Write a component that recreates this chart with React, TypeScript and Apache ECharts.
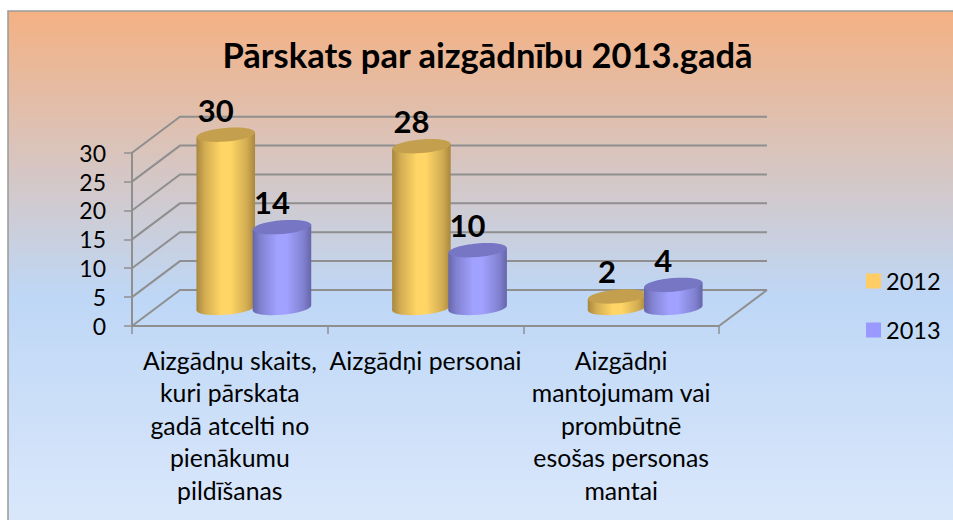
import React, { useEffect, useRef } from "react";
import * as echarts from "echarts";

const categories = [
  "Aizgādņu skaits,\nkuri pārskata\ngadā atcelti no\npienākumu\npildīšanas",
  "Aizgādņi personai",
  "Aizgādņi\nmantojumam vai\nprombūtnē\nesošas personas\nmantai",
];
const seriesNames = ["2012", "2013"];
const values2012 = [30, 28, 2];
const values2013 = [14, 10, 4];
const yTicks = [0, 5, 10, 15, 20, 25, 30];

const FONT = "Lato, Carlito, Calibri, sans-serif";
const DX = 48; // depth offset of the back wall
const DY = 36;
const GRID = "#8f8f8f";

function wallRenderer(params: any, api: any) {
  const cs = params.coordSys;
  const y = api.coord([0, api.value(0)])[1];
  const l = cs.x;
  return {
    type: "polyline",
    silent: true,
    shape: { points: [[l, y], [l + DX, y - DY], [l + cs.width + DX, y - DY]] },
    style: { stroke: GRID, lineWidth: 2, fill: "none" },
  };
}

function floorRenderer(params: any, api: any) {
  const cs = params.coordSys;
  const y = api.coord([0, 0])[1];
  const r = cs.x + cs.width;
  return {
    type: "line",
    silent: true,
    shape: { x1: r, y1: y, x2: r + DX, y2: y - DY },
    style: { stroke: GRID, lineWidth: 2 },
  };
}

function cylinderRenderer(side: number, edge: string, mid: string, bright: string, top: string) {
  return (params: any, api: any) => {
    const [px, py] = api.coord([api.value(0), api.value(1)]);
    const [, py0] = api.coord([api.value(0), 0]);
    const cx = px + DX / 2 + side * 28.1;
    const yTop = py - DY / 2;
    const yBase = py0 - DY / 2;
    const rx = 29.3;
    const ry = 6.8;
    const tilt = (5 * Math.PI) / 180;
    const ey = rx * Math.sin(tilt);
    const fill = {
      type: "linear", x: 0, y: 0, x2: 1, y2: 0,
      colorStops: [
        { offset: 0, color: edge },
        { offset: 0.14, color: mid },
        { offset: 0.42, color: bright },
        { offset: 0.58, color: bright },
        { offset: 0.86, color: mid },
        { offset: 1, color: edge },
      ],
    };
    return {
      type: "group",
      children: [
        {
          type: "ellipse",
          x: cx,
          y: yBase,
          rotation: tilt,
          shape: { cx: 0, cy: 0, rx, ry },
          style: { fill },
        },
        {
          type: "polygon",
          shape: {
            points: [
              [cx - rx, yTop + ey],
              [cx - rx, yBase + ey],
              [cx + rx, yBase - ey],
              [cx + rx, yTop - ey],
            ],
          },
          style: { fill },
        },
        {
          type: "ellipse",
          x: cx,
          y: yTop,
          rotation: tilt,
          shape: { cx: 0, cy: 0, rx, ry },
          style: { fill: top },
        },
        {
          type: "text",
          style: {
            text: String(api.value(1)),
            x: cx - 10,
            y: yTop - 25,
            align: "center",
            verticalAlign: "middle",
            fill: "#000",
            font: `bold 31px ${FONT}`,
          },
        },
      ],
    };
  };
}

const option: any = {
  animation: false,
  backgroundColor: "transparent",
  textStyle: { fontFamily: FONT },
  title: {
    text: "Pārskats par aizgādnību 2013.gadā",
    left: 487.5,
    top: 37,
    padding: 0,
    textAlign: "center",
    textStyle: { fontFamily: FONT, fontWeight: "bold", fontSize: 34.5, color: "#000" },
  },
  graphic: [
    {
      type: "rect",
      z: -10,
      silent: true,
      shape: { x: 8, y: 11, width: 960, height: 520 },
      style: {
        stroke: "#9a9a9a",
        lineWidth: 1.5,
        fill: {
          type: "linear", x: 0, y: 0, x2: 0, y2: 1,
          colorStops: [
            { offset: 0, color: "#F4B183" },
            { offset: 0.55, color: "#BED7F6" },
            { offset: 1, color: "#DBE8FB" },
          ],
        },
      },
    },
  ],
  legend: {
    orient: "vertical",
    left: 866,
    top: 269,
    padding: 0,
    data: seriesNames,
    icon: "rect",
    itemWidth: 15,
    itemHeight: 15,
    itemGap: 25,
    textStyle: { fontFamily: FONT, fontSize: 23.5, color: "#000" },
    selectedMode: false,
  },
  grid: { left: 132, right: 234, top: 152.7, bottom: 194 },
  xAxis: {
    type: "category",
    data: categories,
    axisLine: { lineStyle: { color: GRID, width: 2 } },
    axisTick: { show: true, length: 8, lineStyle: { color: GRID, width: 1.5 } },
    axisLabel: {
      interval: 0,
      margin: 18,
      color: "#000",
      fontFamily: FONT,
      fontSize: 24.8,
      lineHeight: 32.5,
      align: "center",
    },
  },
  yAxis: {
    type: "value",
    min: 0,
    max: 30,
    interval: 5,
    splitLine: { show: false },
    axisLine: { show: true, lineStyle: { color: GRID, width: 2 } },
    axisTick: { show: true, length: 8, lineStyle: { color: GRID, width: 1.5 } },
    axisLabel: { margin: 26, color: "#000", fontFamily: FONT, fontSize: 23 },
  },
  series: [
    {
      type: "custom",
      name: "walls",
      silent: true,
      z: 1,
      data: yTicks.map((t) => [t]),
      encode: { y: 0 },
      renderItem: wallRenderer,
    },
    {
      type: "custom",
      name: "floor",
      silent: true,
      z: 1,
      data: [[0]],
      encode: { y: 0 },
      renderItem: floorRenderer,
    },
    {
      type: "custom",
      name: seriesNames[0],
      z: 3,
      itemStyle: { color: "#FFCC66" },
      data: values2012.map((v, i) => [i, v]),
      encode: { x: 0, y: 1 },
      renderItem: cylinderRenderer(-1, "#A8873F", "#D2AC52", "#FFD565", "#C4A04E"),
    },
    {
      type: "custom",
      name: seriesNames[1],
      z: 4,
      itemStyle: { color: "#9999FF" },
      data: values2013.map((v, i) => [i, v]),
      encode: { x: 0, y: 1 },
      renderItem: cylinderRenderer(1, "#6666AA", "#8282D2", "#A1A1FF", "#7676C4"),
    },
  ],
};

export default function App() {
  const ref = useRef<HTMLDivElement>(null);
  useEffect(() => {
    document.body.style.margin = "0";
    document.body.style.background = "#fff";
    const chart = echarts.init(ref.current!, undefined, { renderer: "svg" });
    chart.setOption(option);
    return () => chart.dispose();
  }, []);
  return <div ref={ref} style={{ width: 953, height: 520, overflow: "hidden" }} />;
}
